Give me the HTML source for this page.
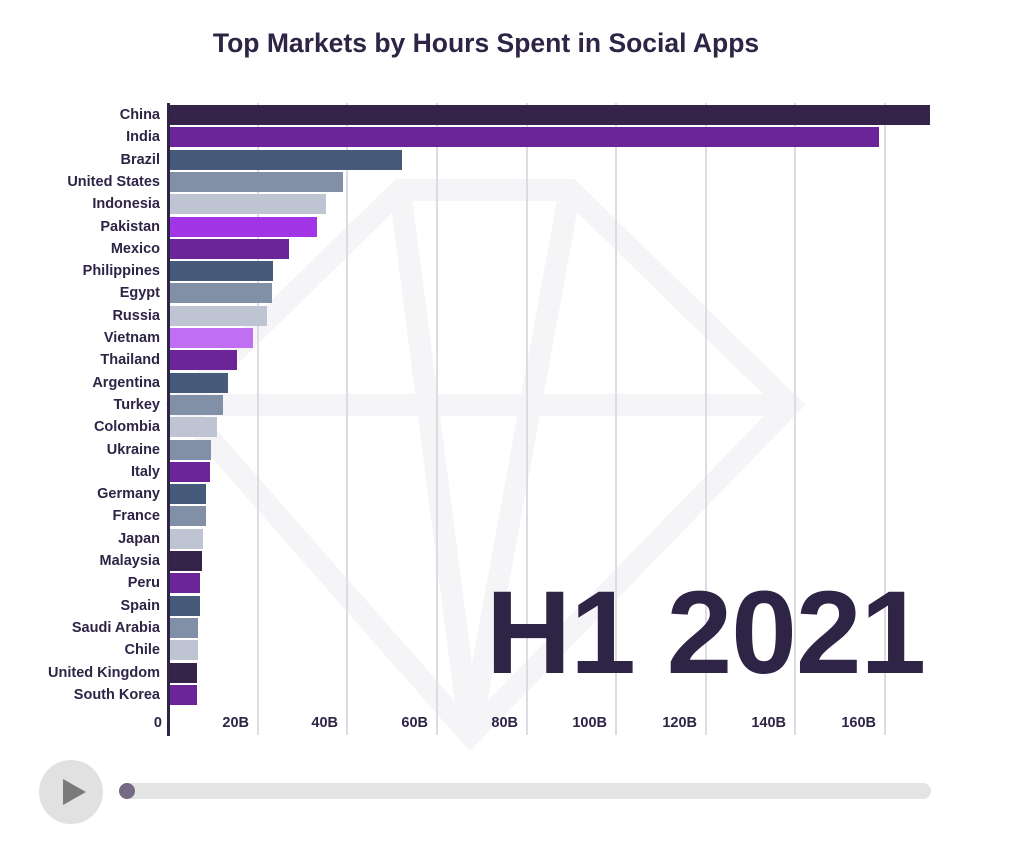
<!DOCTYPE html>
<html><head><meta charset="utf-8"><style>
body{margin:0;width:1024px;height:852px;background:#fff;position:relative;overflow:hidden;font-family:"Liberation Sans",sans-serif;}
.t{position:absolute;left:0;width:972px;text-align:center;top:28px;font-size:26.5px;font-weight:bold;color:#2e2446;}
.g{position:absolute;top:103px;height:632px;width:2px;background:#dcdce2;}
.b{position:absolute;left:170px;height:20px;}
.l{position:absolute;right:864px;font-size:14.5px;font-weight:bold;color:#2e2446;white-space:nowrap;line-height:20px;}
.x{position:absolute;top:715px;font-size:14.5px;font-weight:bold;color:#2e2446;width:60px;text-align:right;}
</style></head><body>
<div class="t">Top Markets by Hours Spent in Social Apps</div>
<svg style="position:absolute;left:0;top:0" width="1024" height="852"><g fill="none" stroke="#f5f5f7" stroke-width="22"><polygon points="400,190 570,190 790,405 470,735 180,405"/><polyline points="180,405 790,405"/><polyline points="400,190 470,735 570,190"/></g></svg>
<div class="g" style="left:257px"></div><div class="g" style="left:346px"></div><div class="g" style="left:436px"></div><div class="g" style="left:526px"></div><div class="g" style="left:615px"></div><div class="g" style="left:705px"></div><div class="g" style="left:794px"></div><div class="g" style="left:884px"></div>
<div style="position:absolute;left:167px;top:103px;width:3px;height:633px;background:#2e2446"></div>
<div id="bars"></div>
<div class="x" style="left:102px">0</div>
<div class="x" style="left:189px">20B</div><div class="x" style="left:278px">40B</div><div class="x" style="left:368px">60B</div><div class="x" style="left:458px">80B</div><div class="x" style="left:547px">100B</div><div class="x" style="left:637px">120B</div><div class="x" style="left:726px">140B</div><div class="x" style="left:816px">160B</div>
<div style="position:absolute;left:486px;top:574px;font-size:118px;font-weight:bold;color:#2e2446;letter-spacing:-1px;line-height:118px">H1 2021</div>
<div style="position:absolute;left:39px;top:760px;width:64px;height:64px;border-radius:50%;background:#e1e1e1"></div>
<div style="position:absolute;left:63px;top:779px;width:0;height:0;border-left:23px solid #7a7a7a;border-top:13px solid transparent;border-bottom:13px solid transparent"></div>
<div style="position:absolute;left:120px;top:783px;width:811px;height:16px;border-radius:8px;background:#e4e4e4"></div>
<div style="position:absolute;left:119px;top:783px;width:16px;height:16px;border-radius:50%;background:#756a84"></div>
<script>
var d=[["China",930,"#36234a"],["India",879,"#6b2598"],["Brazil",402,"#465b79"],["United States",343,"#8190a6"],["Indonesia",326,"#bec4d2"],["Pakistan",317,"#a235e6"],["Mexico",289,"#6b2598"],["Philippines",273,"#465b79"],["Egypt",272,"#8190a6"],["Russia",267,"#bec4d2"],["Vietnam",253,"#c06ef2"],["Thailand",237,"#6b2598"],["Argentina",228,"#465b79"],["Turkey",223,"#8190a6"],["Colombia",217,"#bec4d2"],["Ukraine",211,"#8190a6"],["Italy",210,"#6b2598"],["Germany",206,"#465b79"],["France",206,"#8190a6"],["Japan",203,"#bec4d2"],["Malaysia",202,"#36234a"],["Peru",200,"#6b2598"],["Spain",200,"#465b79"],["Saudi Arabia",198,"#8190a6"],["Chile",198,"#bec4d2"],["United Kingdom",197,"#36234a"],["South Korea",197,"#6b2598"]];
var h="";d.forEach(function(r,i){var y=105+i*22.3;h+='<div class="b" style="top:'+y+'px;width:'+(r[1]-170)+'px;background:'+r[2]+'"></div><div class="l" style="top:'+y+'px">'+r[0]+'</div>';});
document.getElementById("bars").innerHTML=h;
</script>
</body></html>
